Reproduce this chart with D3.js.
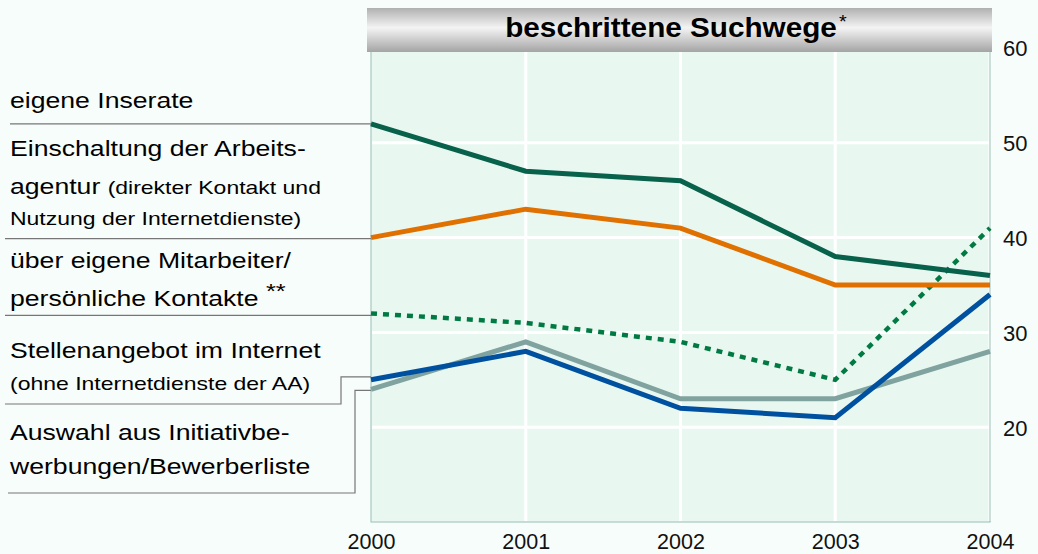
<!DOCTYPE html>
<html><head><meta charset="utf-8">
<script src="https://cdn.jsdelivr.net/npm/d3@7"></script>
<style>
html,body{margin:0;padding:0;background:#f7fdfa;}
svg{display:block;font-family:"Liberation Sans",Arial,sans-serif;}
</style></head>
<body><svg id="c" width="1038" height="554"></svg>
<script>
const years = [2000, 2001, 2002, 2003, 2004];
const yTicks = [20, 30, 40, 50, 60];
const inserate = [52, 47, 46, 38, 36];
const arbeitsagentur = [40, 43, 41, 35, 35];
const kontakte = [32, 31, 29, 25, 41];
const internet = [25, 28, 22, 21, 34];
const initiativ = [24, 29, 23, 23, 28];

const svg = d3.select("#c");
const L = 371, R = 990, T = 48, B = 522;
const x = d3.scalePoint().domain(years).range([L, R]);
const y = d3.scaleLinear().domain([10, 60]).range([B, T]);

// gradient for title
const defs = svg.append("defs");
const g = defs.append("linearGradient").attr("id","tg").attr("x1",0).attr("y1",0).attr("x2",0).attr("y2",1);
g.append("stop").attr("offset","0%").attr("stop-color","#b0b0b0");
g.append("stop").attr("offset","45%").attr("stop-color","#f4f4f4");
g.append("stop").attr("offset","100%").attr("stop-color","#a4a4a4");

// plot bg
svg.append("rect").attr("x",L).attr("y",T).attr("width",R-L).attr("height",B-T)
  .attr("fill","#e8f8f1").attr("stroke","#a9c9c2").attr("stroke-width",1.2);

// grid
svg.append("g").selectAll("line").data(yTicks.filter(d=>d<60)).join("line")
  .attr("x1",L+1).attr("x2",R-1).attr("y1",d=>y(d)).attr("y2",d=>y(d))
  .attr("stroke","#ffffff").attr("stroke-width",3);
svg.append("g").selectAll("line").data(years.slice(1)).join("line")
  .attr("x1",d=>x(d)).attr("x2",d=>x(d)).attr("y1",T).attr("y2",B-1)
  .attr("stroke","#ffffff").attr("stroke-width",3);
svg.append("line").attr("x1",R).attr("x2",R).attr("y1",T).attr("y2",B).attr("stroke","#a9c9c2").attr("stroke-width",1.2);

// title box
svg.append("rect").attr("x",367).attr("y",8).attr("width",625).attr("height",44).attr("fill","url(#tg)");
const tt = svg.append("text").attr("transform","translate(676,37) scale(1.1,1)").attr("text-anchor","middle")
  .attr("font-size",27).attr("font-weight","bold").attr("fill","#000");
tt.append("tspan").text("beschrittene Suchwege");
tt.append("tspan").attr("font-size",18).attr("font-weight","normal").attr("dx",2).attr("dy",-9).text("*");

// right axis
const yAxis = d3.axisRight(y).tickValues(yTicks).tickSize(0).tickPadding(0);
const ya = svg.append("g").attr("transform",`translate(1003,0)`).call(yAxis);
ya.select(".domain").remove();
ya.selectAll("text").attr("font-size",22).attr("font-family","Liberation Sans, Arial, sans-serif").attr("fill","#111").attr("dy","0.36em");

// bottom axis
const xAxis = d3.axisBottom(x).tickSize(0).tickPadding(0).tickFormat(d3.format("d"));
const xa = svg.append("g").attr("transform",`translate(0,549)`).call(xAxis);
xa.select(".domain").remove();
xa.selectAll("text").attr("font-size",21.5).attr("font-family","Liberation Sans, Arial, sans-serif").attr("fill","#111").attr("y",0).attr("dy","0");

// connector lines
const lc = "#777";
const conn = svg.append("g").attr("fill","none").attr("stroke",lc).attr("stroke-width",1.2);
conn.append("path").attr("d",`M10,${y(inserate[0])}H${L}`);
conn.append("path").attr("d",`M5,${y(arbeitsagentur[0])+1}H${L}`);
conn.append("path").attr("d",`M5,${y(kontakte[0])+2}H${L}`);
conn.append("path").attr("d",`M5,404H341V${y(internet[0])-3}H${L}`);
conn.append("path").attr("d",`M8,493H355V${y(initiativ[0])+1}H${L}`);

// lines
const line = d3.line().x((d,i)=>x(years[i])).y(d=>y(d));
const lg = svg.append("g").attr("fill","none").attr("stroke-width",5).attr("stroke-linejoin","miter");
lg.append("path").datum(initiativ).attr("d",line).attr("stroke","#80a3a0");
lg.append("path").datum(internet).attr("d",line).attr("stroke","#0050a0");
lg.append("path").datum(kontakte).attr("d",line).attr("stroke","#007a42").attr("stroke-width",4.5).attr("stroke-dasharray","6,6");
lg.append("path").datum(arbeitsagentur).attr("d",line).attr("stroke","#e07000");
lg.append("path").datum(inserate).attr("d",line).attr("stroke","#08614a");

// left labels
const lab = svg.append("g").attr("fill","#000").attr("font-size",22);
function t(yp, parts){
  const te = lab.append("text").attr("transform",`translate(10,${yp}) scale(1.21,1)`);
  parts.forEach(p=>{
    const s = te.append("tspan").text(p.t);
    if(p.s) s.attr("font-size",p.s);
    if(p.dy) s.attr("dy",p.dy);
  });
}
t(108,[{t:"eigene Inserate"}]);
t(156,[{t:"Einschaltung der Arbeits-"}]);
t(194,[{t:"agentur "},{t:"(direkter Kontakt und",s:19}]);
t(225,[{t:"Nutzung der Internetdienste)",s:19}]);
t(268,[{t:"über eigene Mitarbeiter/"}]);
t(306,[{t:"persönliche Kontakte "},{t:"**",s:21,dy:-8}]);
t(358,[{t:"Stellenangebot im Internet"}]);
t(390,[{t:"(ohne Internetdienste der AA)",s:19}]);
t(440,[{t:"Auswahl aus Initiativbe-"}]);
t(474,[{t:"werbungen/Bewerberliste"}]);
</script></body></html>
